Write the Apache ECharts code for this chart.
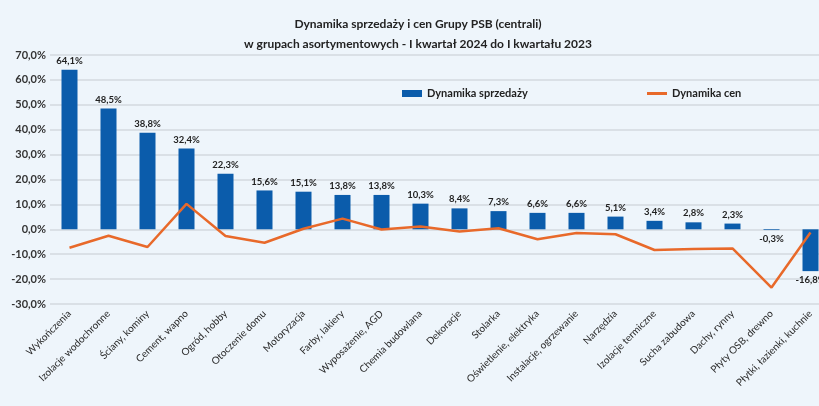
<!DOCTYPE html>
<html>
<head>
<meta charset="utf-8">
<script src="https://cdn.jsdelivr.net/npm/echarts@6/dist/echarts.min.js"></script>
<style>
html,body{margin:0;padding:0;background:#eef5fb;overflow:hidden;width:819px;height:406px;}
#c{width:836px;height:406px;}
</style>
</head>
<body>
<div id="c"></div>
<script>
const categories = ["Wykończenia","Izolacje wodochronne","Ściany, kominy","Cement, wapno","Ogród, hobby","Otoczenie domu","Motoryzacja","Farby, lakiery","Wyposażenie, AGD","Chemia budowlana","Dekoracje","Stolarka","Oświetlenie, elektryka","Instalacje, ogrzewanie","Narzędzia","Izolacje termiczne","Sucha zabudowa","Dachy, rynny","Płyty OSB, drewno","Płytki, łazienki, kuchnie"];
const salesDynamics = [64.1,48.5,38.8,32.4,22.3,15.6,15.1,13.8,13.8,10.3,8.4,7.3,6.6,6.6,5.1,3.4,2.8,2.3,-0.3,-16.8];
const priceDynamics = [-7.4,-2.6,-7.1,10.2,-2.7,-5.4,0.2,4.3,-0.1,1.1,-0.9,0.4,-4.0,-1.5,-2.0,-8.3,-7.9,-7.7,-23.4,-1.3];
const seriesNames = ["Dynamika sprzedaży","Dynamika cen"];
const titleText = "Dynamika sprzedaży i cen Grupy PSB (centrali)\nw grupach asortymentowych - I kwartał 2024 do I kwartału 2023";

const fmt = v => v.toFixed(1).replace('.', ',') + '%';
const FONT = 'Lato, "Liberation Sans", sans-serif';

const chart = echarts.init(document.getElementById('c'));
chart.setOption({
  backgroundColor: '#eef5fb',
  animation: false,
  textStyle: {fontFamily: FONT},
  title: {
    text: titleText,
    left: 'center',
    top: 9,
    textStyle: {fontSize: 12, fontWeight: 'bold', color: '#222', lineHeight: 20, fontFamily: FONT}
  },
  legend: [
    {data: [{name: seriesNames[0], icon: 'rect'}], left: 397, top: 83, itemWidth: 20, itemHeight: 7, itemGap: 5,
     textStyle: {fontSize: 11, fontWeight: 'bold', color: '#222', fontFamily: FONT}},
    {data: [{name: seriesNames[1], icon: 'rect'}], left: 642, top: 83, itemWidth: 20, itemHeight: 3,
     textStyle: {fontSize: 11, fontWeight: 'bold', color: '#222', fontFamily: FONT}}
  ],
  grid: {left: 50, right: 6, top: 55, bottom: 102},
  xAxis: {
    type: 'category',
    data: categories,
    axisLine: {show: false, onZero: false},
    axisTick: {show: false},
    axisLabel: {rotate: 45, interval: 0, fontSize: 10, color: '#2a2a2a', margin: 8, fontFamily: FONT}
  },
  yAxis: {
    type: 'value',
    min: -30, max: 70, interval: 10,
    axisLine: {show: false},
    axisTick: {show: false},
    axisLabel: {formatter: fmt, fontSize: 11, fontWeight: 'bold', color: '#333', margin: 4, fontFamily: FONT},
    splitLine: {lineStyle: {color: '#d3d9df', width: 1.5}}
  },
  series: [
    {
      name: seriesNames[0],
      type: 'bar',
      barWidth: 16,
      itemStyle: {color: '#0b5cab'},
      data: salesDynamics.map(v => ({value: v, label: {position: v < 0 ? 'bottom' : 'top'}})),
      label: {show: true, formatter: p => fmt(p.value), fontSize: 9.5, fontWeight: 'bold', color: '#222', distance: 4, fontFamily: FONT}
    },
    {
      name: seriesNames[1],
      type: 'line',
      symbol: 'none',
      data: priceDynamics,
      itemStyle: {color: '#e8692a'},
      lineStyle: {color: '#e8692a', width: 2.5}
    }
  ]
});
</script>
</body>
</html>
